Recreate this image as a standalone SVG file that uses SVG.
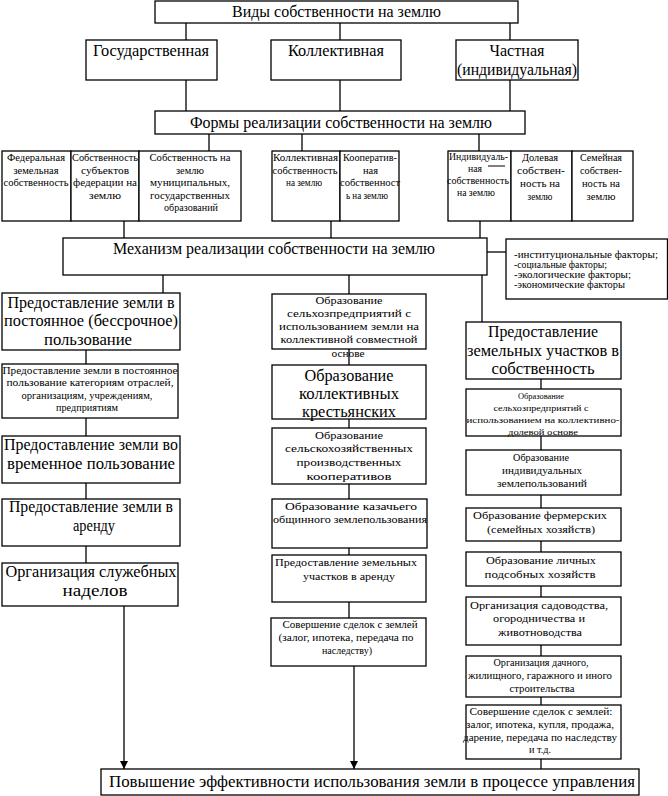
<svg xmlns="http://www.w3.org/2000/svg" width="668" height="796" viewBox="0 0 668 796">
<style>
rect{fill:#fff;stroke:#000;stroke-width:1.3}
.c line{stroke:#000;stroke-width:1.3}
text{font-family:"Liberation Serif","Times New Roman",Times,Tinos,"Noto Serif","DejaVu Serif",FreeSerif,serif;fill:#000;text-anchor:middle}
text.st{text-anchor:start}
.L{font-size:16px}
.M{font-size:10.5px}
.S{font-size:10px}
.X{font-size:9.5px}
.T{font-size:9px}
</style>
<defs>
<marker id="ah" markerWidth="8" markerHeight="8" refX="8" refY="4" orient="auto" markerUnits="userSpaceOnUse">
<path d="M0,0 L8,4 L0,8 Z" fill="#000"/>
</marker>
</defs>
<g class="c" id="connectors">
<line x1="186" y1="23" x2="186" y2="111"/>
<line x1="340" y1="23" x2="340" y2="111"/>
<line x1="510" y1="23" x2="510" y2="111"/>
<line x1="209" y1="134" x2="209" y2="151"/>
<line x1="302" y1="134" x2="302" y2="151"/>
<line x1="479" y1="134" x2="479" y2="151"/>
<line x1="124" y1="221" x2="124" y2="238"/>
<line x1="331" y1="221" x2="331" y2="238"/>
<line x1="480" y1="221" x2="480" y2="238"/>
<line x1="487" y1="252" x2="506" y2="252"/>
<line x1="163" y1="275" x2="163" y2="293"/>
<line x1="86" y1="350" x2="86" y2="563"/>
<line x1="124" y1="606" x2="124" y2="769" marker-end="url(#ah)"/>
<line x1="349" y1="275" x2="349" y2="618"/>
<line x1="354" y1="666" x2="354" y2="769" marker-end="url(#ah)"/>
<line x1="482" y1="275" x2="482" y2="322"/>
<line x1="541" y1="379" x2="541" y2="769"/>
</g>
<g id="vidy"><rect x="155" y="1" width="363" height="22"/><text class="L" x="336.5" y="17" textLength="209" lengthAdjust="spacingAndGlyphs">Виды собственности на землю</text></g>
<g id="gos"><rect x="86" y="40" width="131" height="40"/><text class="L" x="151" y="56" textLength="116" lengthAdjust="spacingAndGlyphs">Государственная</text></g>
<g id="koll"><rect x="271" y="40" width="130" height="40"/><text class="L" x="336" y="56" textLength="96" lengthAdjust="spacingAndGlyphs">Коллективная</text></g>
<g id="chast"><rect x="456" y="40" width="122" height="40"/><text class="L" x="517" y="56" textLength="55" lengthAdjust="spacingAndGlyphs">Частная</text><text class="L" x="517" y="75" textLength="120" lengthAdjust="spacingAndGlyphs">(индивидуальная)</text></g>
<g id="formy"><rect x="155" y="111" width="370" height="23"/><text class="L" x="341" y="128" textLength="302" lengthAdjust="spacingAndGlyphs">Формы реализации собственности на землю</text></g>
<g id="fed"><rect x="2" y="151" width="69" height="70"/><text class="X" x="36" y="161" textLength="58" lengthAdjust="spacingAndGlyphs">Федеральная</text><text class="X" x="36" y="174" textLength="45" lengthAdjust="spacingAndGlyphs">земельная</text><text class="X" x="36" y="186" textLength="65" lengthAdjust="spacingAndGlyphs">собственность</text></g>
<g id="subj"><rect x="71" y="151" width="68" height="70"/><text class="X" x="105" y="161" textLength="66" lengthAdjust="spacingAndGlyphs">Собственность</text><text class="X" x="105" y="174" textLength="48" lengthAdjust="spacingAndGlyphs">субъектов</text><text class="X" x="105" y="186" textLength="64" lengthAdjust="spacingAndGlyphs">федерации на</text><text class="X" x="105" y="199" textLength="32" lengthAdjust="spacingAndGlyphs">землю</text></g>
<g id="mun"><rect x="139" y="151" width="102" height="70"/><text class="X" x="190" y="161" textLength="81" lengthAdjust="spacingAndGlyphs">Собственность на</text><text class="X" x="190" y="174" textLength="28" lengthAdjust="spacingAndGlyphs">землю</text><text class="X" x="190" y="186" textLength="80" lengthAdjust="spacingAndGlyphs">муниципальных,</text><text class="X" x="190" y="199" textLength="80" lengthAdjust="spacingAndGlyphs">государственных</text><text class="X" x="191" y="211" textLength="54" lengthAdjust="spacingAndGlyphs">образований</text></g>
<g id="kollsob"><rect x="272" y="151" width="68" height="70"/><text class="X" x="305.5" y="161" textLength="65" lengthAdjust="spacingAndGlyphs">Коллективная</text><text class="X" x="305" y="174" textLength="65" lengthAdjust="spacingAndGlyphs">собственность</text><text class="X" x="304" y="186" textLength="36" lengthAdjust="spacingAndGlyphs">на землю</text></g>
<g id="koop"><rect x="340" y="151" width="59" height="70"/><text class="X" x="370" y="161" textLength="54" lengthAdjust="spacingAndGlyphs">Кооператив-</text><text class="X" x="370.5" y="174" textLength="15" lengthAdjust="spacingAndGlyphs">ная</text><text class="X" x="370" y="186" textLength="60" lengthAdjust="spacingAndGlyphs">собственност</text><text class="X" x="367" y="199" textLength="42" lengthAdjust="spacingAndGlyphs">ь на землю</text></g>
<g id="indiv"><rect x="448" y="151" width="63" height="70"/><text class="X" x="478.5" y="160" textLength="59" lengthAdjust="spacingAndGlyphs">Индивидуаль-</text><text class="X" x="475" y="172" textLength="14" lengthAdjust="spacingAndGlyphs">ная</text><text class="X" x="478" y="184" textLength="62" lengthAdjust="spacingAndGlyphs">собственность</text><text class="X" x="476" y="196" textLength="38" lengthAdjust="spacingAndGlyphs">на землю</text><line x1="488" y1="166" x2="505" y2="166" stroke="#000" stroke-width="1"/></g>
<g id="dol"><rect x="511" y="151" width="61" height="70"/><text class="M" x="540" y="161" textLength="36" lengthAdjust="spacingAndGlyphs">Долевая</text><text class="M" x="541" y="174" textLength="48" lengthAdjust="spacingAndGlyphs">собствен-</text><text class="M" x="540" y="187" textLength="40" lengthAdjust="spacingAndGlyphs">ность на</text><text class="M" x="540" y="200" textLength="25" lengthAdjust="spacingAndGlyphs">землю</text></g>
<g id="sem"><rect x="572" y="151" width="61" height="70"/><text class="M" x="601" y="161" textLength="42" lengthAdjust="spacingAndGlyphs">Семейная</text><text class="M" x="601" y="174" textLength="42" lengthAdjust="spacingAndGlyphs">собствен-</text><text class="M" x="601" y="187" textLength="38" lengthAdjust="spacingAndGlyphs">ность на</text><text class="M" x="601" y="200" textLength="29" lengthAdjust="spacingAndGlyphs">землю</text></g>
<g id="mech"><rect x="63" y="238" width="424" height="37"/><text class="L" x="274" y="254" textLength="322" lengthAdjust="spacingAndGlyphs">Механизм реализации собственности на землю</text></g>
<g id="factors"><rect x="506" y="239" width="161.5" height="60"/><text class="S st" x="514" y="258" textLength="144" lengthAdjust="spacingAndGlyphs">-институциональные факторы;</text><text class="S st" x="514" y="268" textLength="93" lengthAdjust="spacingAndGlyphs">-социальные факторы;</text><text class="S st" x="514" y="278" textLength="117" lengthAdjust="spacingAndGlyphs">-экологические факторы;</text><text class="S st" x="514" y="288" textLength="111" lengthAdjust="spacingAndGlyphs">-экономические факторы</text></g>
<g id="l1"><rect x="2" y="293" width="178" height="57"/><text class="L" x="91" y="308" textLength="167" lengthAdjust="spacingAndGlyphs">Предоставление земли в</text><text class="L" x="91" y="326" textLength="174" lengthAdjust="spacingAndGlyphs">постоянное (бессрочное)</text><text class="L" x="88" y="345" textLength="88" lengthAdjust="spacingAndGlyphs">пользование</text></g>
<g id="l2"><rect x="2" y="364" width="176" height="54"/><text class="X" x="90" y="374" textLength="175" lengthAdjust="spacingAndGlyphs">Предоставление земли в постоянное</text><text class="X" x="90" y="386" textLength="167" lengthAdjust="spacingAndGlyphs">пользование категориям отраслей,</text><text class="X" x="87" y="399" textLength="131" lengthAdjust="spacingAndGlyphs">организациям, учреждениям,</text><text class="X" x="87" y="411" textLength="62" lengthAdjust="spacingAndGlyphs">предприятиям</text></g>
<g id="l3"><rect x="2" y="436" width="178" height="47"/><text class="L" x="91" y="450" textLength="174" lengthAdjust="spacingAndGlyphs">Предоставление земли во</text><text class="L" x="91" y="469" textLength="168" lengthAdjust="spacingAndGlyphs">временное пользование</text></g>
<g id="l4"><rect x="2" y="499" width="178" height="47"/><text class="L" x="91" y="512" textLength="164" lengthAdjust="spacingAndGlyphs">Предоставление земли в</text><text class="L" x="94" y="531" textLength="42" lengthAdjust="spacingAndGlyphs">аренду</text></g>
<g id="l5"><rect x="2" y="563" width="176" height="43"/><text class="L" x="91" y="577" textLength="171" lengthAdjust="spacingAndGlyphs">Организация служебных</text><text class="L" x="95" y="596" textLength="65" lengthAdjust="spacingAndGlyphs">наделов</text></g>
<g id="m1"><rect x="272" y="294" width="154" height="55"/><text class="S" x="349" y="304" textLength="67" lengthAdjust="spacingAndGlyphs">Образование</text><text class="S" x="349" y="317" textLength="124" lengthAdjust="spacingAndGlyphs">сельхозпредприятий с</text><text class="S" x="349" y="330" textLength="140" lengthAdjust="spacingAndGlyphs">использованием земли на</text><text class="S" x="349" y="343" textLength="137" lengthAdjust="spacingAndGlyphs">коллективной совместной</text><text class="S" x="348" y="357" textLength="33" lengthAdjust="spacingAndGlyphs">основе</text></g>
<g id="m2"><rect x="272" y="365" width="154" height="54"/><text class="L" x="349" y="381" textLength="89" lengthAdjust="spacingAndGlyphs">Образование</text><text class="L" x="349" y="399" textLength="100" lengthAdjust="spacingAndGlyphs">коллективных</text><text class="L" x="349" y="417" textLength="94" lengthAdjust="spacingAndGlyphs">крестьянских</text></g>
<g id="m3"><rect x="272" y="428" width="154" height="56"/><text class="S" x="349" y="439" textLength="68" lengthAdjust="spacingAndGlyphs">Образование</text><text class="S" x="349" y="452" textLength="128" lengthAdjust="spacingAndGlyphs">сельскохозяйственных</text><text class="S" x="349" y="466" textLength="105" lengthAdjust="spacingAndGlyphs">производственных</text><text class="S" x="349" y="480" textLength="85" lengthAdjust="spacingAndGlyphs">кооперативов</text></g>
<g id="m4"><rect x="272" y="499" width="155" height="49"/><text class="S" x="351" y="510" textLength="132" lengthAdjust="spacingAndGlyphs">Образование казачьего</text><text class="S" x="350" y="523" textLength="154" lengthAdjust="spacingAndGlyphs">общинного землепользования</text></g>
<g id="m5"><rect x="272" y="555" width="154" height="47"/><text class="S" x="346" y="566" textLength="142" lengthAdjust="spacingAndGlyphs">Предоставление земельных</text><text class="S" x="349" y="580" textLength="92" lengthAdjust="spacingAndGlyphs">участков в аренду</text></g>
<g id="m6"><rect x="271" y="618" width="155" height="48"/><text class="X" x="350" y="628" textLength="135" lengthAdjust="spacingAndGlyphs">Совершение сделок с землей</text><text class="X" x="346" y="641" textLength="135" lengthAdjust="spacingAndGlyphs">(залог, ипотека, передача по</text><text class="X" x="347" y="654" textLength="50" lengthAdjust="spacingAndGlyphs">наследству)</text></g>
<g id="r1"><rect x="466" y="322" width="155" height="57"/><text class="L" x="543" y="337" textLength="110" lengthAdjust="spacingAndGlyphs">Предоставление</text><text class="L" x="543" y="356" textLength="152" lengthAdjust="spacingAndGlyphs">земельных участков в</text><text class="L" x="543" y="374" textLength="103" lengthAdjust="spacingAndGlyphs">собственность</text></g>
<g id="r2"><rect x="466" y="389" width="155" height="47"/><text class="T" x="541" y="399" textLength="46" lengthAdjust="spacingAndGlyphs">Образование</text><text class="T" x="541" y="411" textLength="95" lengthAdjust="spacingAndGlyphs">сельхозпредприятий с</text><text class="T" x="543" y="423" textLength="153" lengthAdjust="spacingAndGlyphs">использованием на коллективно-</text><text class="T" x="543" y="435" textLength="70" lengthAdjust="spacingAndGlyphs">долевой основе</text></g>
<g id="r3"><rect x="466" y="450" width="155" height="45"/><text class="S" x="541" y="461" textLength="56" lengthAdjust="spacingAndGlyphs">Образование</text><text class="S" x="542" y="474" textLength="80" lengthAdjust="spacingAndGlyphs">индивидуальных</text><text class="S" x="542" y="487" textLength="90" lengthAdjust="spacingAndGlyphs">землепользований</text></g>
<g id="r4"><rect x="466" y="508" width="155" height="33"/><text class="S" x="540" y="519" textLength="134" lengthAdjust="spacingAndGlyphs">Образование фермерских</text><text class="S" x="541" y="533" textLength="108" lengthAdjust="spacingAndGlyphs">(семейных хозяйств)</text></g>
<g id="r5"><rect x="466" y="552" width="155" height="34"/><text class="S" x="541" y="564" textLength="110" lengthAdjust="spacingAndGlyphs">Образование личных</text><text class="S" x="540" y="578" textLength="111" lengthAdjust="spacingAndGlyphs">подсобных хозяйств</text></g>
<g id="r6"><rect x="466" y="597" width="155" height="48"/><text class="S" x="539" y="609" textLength="138" lengthAdjust="spacingAndGlyphs">Организация садоводства,</text><text class="S" x="539" y="622" textLength="92" lengthAdjust="spacingAndGlyphs">огородничества и</text><text class="S" x="540" y="636" textLength="84" lengthAdjust="spacingAndGlyphs">животноводства</text></g>
<g id="r7"><rect x="466" y="656" width="155" height="41"/><text class="X" x="541" y="666" textLength="95" lengthAdjust="spacingAndGlyphs">Организация дачного,</text><text class="X" x="540" y="679" textLength="144" lengthAdjust="spacingAndGlyphs">жилищного, гаражного и иного</text><text class="X" x="542" y="692" textLength="65" lengthAdjust="spacingAndGlyphs">строительства</text></g>
<g id="r8"><rect x="466" y="705" width="155" height="54"/><text class="X" x="541" y="715" textLength="143" lengthAdjust="spacingAndGlyphs">Совершение сделок с землей:</text><text class="X" x="540" y="728" textLength="148" lengthAdjust="spacingAndGlyphs">залог, ипотека, купля, продажа,</text><text class="X" x="540" y="741" textLength="154" lengthAdjust="spacingAndGlyphs">дарение, передача по наследству</text><text class="X" x="540" y="753" textLength="22" lengthAdjust="spacingAndGlyphs">и т.д.</text></g>
<g id="final"><rect x="101" y="769" width="538" height="26"/><text class="L" x="372" y="787" textLength="526" lengthAdjust="spacingAndGlyphs">Повышение эффективности использования земли в процессе управления</text></g>
</svg>
